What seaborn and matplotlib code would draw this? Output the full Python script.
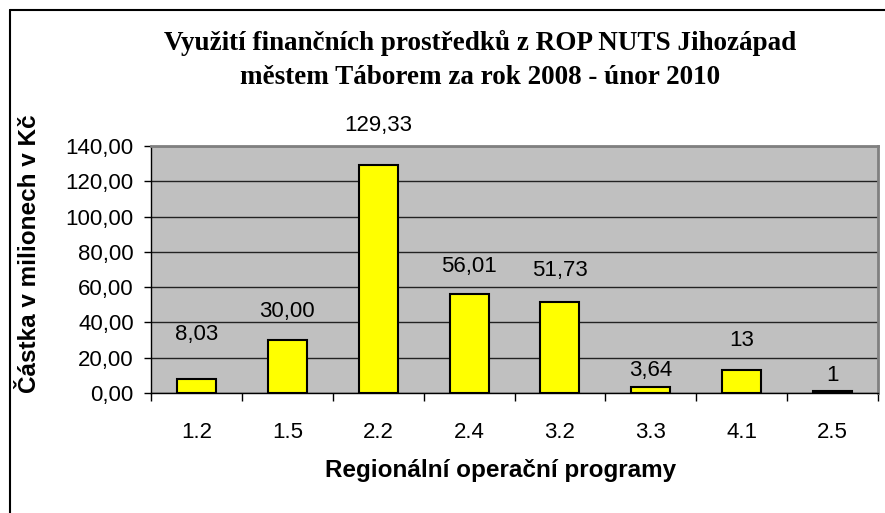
import matplotlib
matplotlib.use("Agg")
import matplotlib.pyplot as plt
import seaborn as sns
import pandas as pd
from matplotlib.ticker import FuncFormatter, FixedLocator, MultipleLocator
from matplotlib.lines import Line2D

# ---- data ----
categories = ["1.2", "1.5", "2.2", "2.4", "3.2", "3.3", "4.1", "2.5"]
values = [8.03, 30.00, 129.33, 56.01, 51.73, 3.64, 13, 1]
value_labels = ["8,03", "30,00", "129,33", "56,01", "51,73", "3,64", "13", "1"]
# label anchor heights (data units), as placed in the original chart
label_y = [33.2, 46.2, 151.9, 71.7, 69.2, 13.0, 30.0, 10.2]

title_text = "Využití finančních prostředků z ROP NUTS Jihozápad\nměstem Táborem za rok 2008 - únor 2010"
xlabel_text = "Regionální operační programy"
ylabel_text = "Částka v milionech v Kč"

sns.set_style("white")
plt.rcParams["font.family"] = ["Liberation Sans", "DejaVu Sans"]
plt.rcParams.update({"text.color": "black", "axes.labelcolor": "black",
                     "xtick.color": "black", "ytick.color": "black"})

W, H = 885, 513
fig = plt.figure(figsize=(W / 100, H / 100), dpi=100)
left, right, top, bottom = 151, 878, 146, 393
ax = fig.add_axes([left / W, 1 - bottom / H, (right - left) / W, (bottom - top) / H])

df = pd.DataFrame({"cat": categories, "val": values})
sns.barplot(data=df, x="cat", y="val", color="#FFFF00", edgecolor="black",
            linewidth=1.5, width=0.43, saturation=1, ax=ax, zorder=3)

ax.set_facecolor("#C0C0C0")
ax.set_ylim(0, 140)
ax.set_xlim(-0.5, len(categories) - 0.5)
ax.yaxis.set_major_locator(MultipleLocator(20))
ax.yaxis.set_major_formatter(FuncFormatter(lambda v, p: f"{v:.2f}".replace(".", ",")))
ax.grid(axis="y", color="#222222", linewidth=1.0, zorder=0)
ax.set_axisbelow(True)

for s in ["top", "right"]:
    ax.spines[s].set_color("#808080")
    ax.spines[s].set_linewidth(2)
for s in ["left", "bottom"]:
    ax.spines[s].set_color("black")
    ax.spines[s].set_linewidth(1)

ax.tick_params(axis="y", which="major", length=5, width=1, direction="out",
               pad=7.5, labelsize=16, left=True, colors="black")
ax.tick_params(axis="x", which="major", length=0, pad=21, labelsize=16, colors="black")
ax.xaxis.set_minor_locator(FixedLocator([i + 0.5 for i in range(-1, len(categories))]))
ax.tick_params(axis="x", which="minor", length=6, width=1, direction="out", bottom=True,
               colors="black")

for i, (lab, ly) in enumerate(zip(value_labels, label_y)):
    ax.text(i, ly, lab, ha="center", va="center", fontsize=16, color="black", zorder=5,
            clip_on=False)

ax.set_xlabel(xlabel_text, fontsize=17.5, fontweight="bold", color="black")
ax.set_ylabel(ylabel_text, fontsize=17.5, fontweight="bold", color="black")
ax.xaxis.set_label_coords((501 - left) / (right - left), (bottom - 470) / (bottom - top))
ax.yaxis.set_label_coords((30 - left) / (right - left), (bottom - 254) / (bottom - top))
ax.xaxis.label.set_va("center")
ax.yaxis.label.set_va("center")

fig.text(480 / W, 1 - 60 / H, title_text, ha="center", va="center", color="black",
         fontsize=19.5, fontweight="bold", family=["Liberation Serif"], linespacing=1.5)

# outer chart border (left and top edges visible)
fig.add_artist(Line2D([10 / W, 10 / W], [0, 1 - 10 / H], transform=fig.transFigure,
                      color="black", linewidth=1.5))
fig.add_artist(Line2D([10 / W, 1], [1 - 10 / H, 1 - 10 / H], transform=fig.transFigure,
                      color="black", linewidth=1.5))

fig.savefig("out.png", dpi=100)
